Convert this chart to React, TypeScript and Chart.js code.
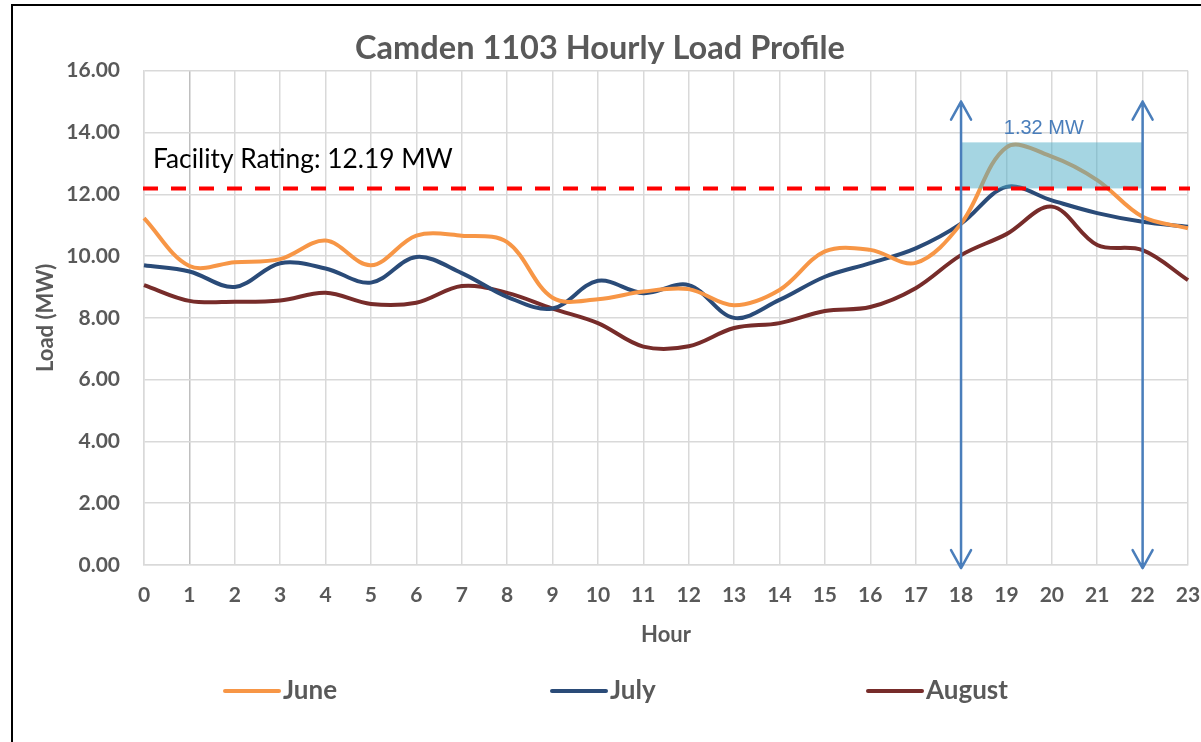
import React, { useEffect, useRef } from 'react';
import { Chart, registerables } from 'chart.js';

Chart.register(...registerables);

// ---------- data ----------
const HOURS = ['0', '1', '2', '3', '4', '5', '6', '7', '8', '9', '10', '11', '12', '13', '14', '15', '16', '17', '18', '19', '20', '21', '22', '23'];
const JUNE = [11.23, 9.68, 9.8, 9.9, 10.5, 9.7, 10.66, 10.66, 10.45, 8.65, 8.6, 8.85, 8.93, 8.41, 8.9, 10.15, 10.2, 9.78, 11.05, 13.52, 13.22, 12.46, 11.27, 10.9];
const JULY = [9.7, 9.5, 9.0, 9.77, 9.6, 9.14, 9.97, 9.45, 8.68, 8.3, 9.2, 8.8, 9.06, 8.0, 8.58, 9.33, 9.77, 10.25, 11.05, 12.24, 11.8, 11.39, 11.11, 10.95];
const AUGUST = [9.06, 8.55, 8.52, 8.56, 8.81, 8.45, 8.49, 9.03, 8.81, 8.3, 7.83, 7.07, 7.08, 7.67, 7.83, 8.22, 8.35, 8.96, 10.03, 10.71, 11.6, 10.36, 10.19, 9.22];
const SERIES_NAMES = ['June', 'July', 'August'];

const Y_MIN = 0;
const Y_MAX = 16;
const Y_STEP = 2;

const FACILITY_RATING = 12.19;
const FACILITY_LABEL = 'Facility Rating: 12.19 MW';
const BAND_TOP = 13.68;
const EXCEEDANCE_LABEL = '1.32 MW';
const WINDOW_START = 18;
const WINDOW_END = 22;
const ARROW_TOP = 15.0;
const ARROW_BOTTOM = -0.1;

const TITLE = 'Camden 1103 Hourly Load Profile';
const X_TITLE = 'Hour';
const Y_TITLE = 'Load (MW)';

// ---------- styles ----------
const COLORS = ['#F79646', '#2A4B78', '#772C2A'];
const GRAY_TEXT = '#595959';
const GRID = '#D9D9D9';
const ARROW_BLUE = '#4A7EBB';
const FONT = 'Lato';

function fitSize(ctx: CanvasRenderingContext2D, text: string, weight: string, family: string, width: number) {
  ctx.font = `${weight} 100px ${family}`;
  return (100 * width) / ctx.measureText(text).width;
}

const overlayPlugin = {
  id: 'overlay',
  beforeDraw(chart: any) {
    const ctx: CanvasRenderingContext2D = chart.ctx;
    ctx.save();
    ctx.fillStyle = '#ffffff';
    ctx.fillRect(0, 0, chart.width, chart.height);
    ctx.strokeStyle = '#000000';
    ctx.lineWidth = 2;
    ctx.beginPath();
    ctx.moveTo(12, chart.height + 5);
    ctx.lineTo(12, 5);
    ctx.lineTo(chart.width + 5, 5);
    ctx.stroke();
    ctx.restore();
  },
  afterDatasetsDraw(chart: any) {
    const ctx: CanvasRenderingContext2D = chart.ctx;
    const ca = chart.chartArea;
    const xs = chart.scales.x;
    const ys = chart.scales.y;
    const xa = xs.getPixelForValue(WINDOW_START);
    const xb = xs.getPixelForValue(WINDOW_END);
    const yr = ys.getPixelForValue(FACILITY_RATING);
    const yt = ys.getPixelForValue(BAND_TOP);
    ctx.save();

    // exceedance band
    ctx.fillStyle = 'rgba(75,172,198,0.5)';
    ctx.fillRect(xa, yt, xb - xa, yr - yt);

    // facility rating line
    ctx.setLineDash([15, 13]);
    ctx.strokeStyle = '#FF0000';
    ctx.lineWidth = 4;
    ctx.beginPath();
    ctx.moveTo(ca.left - 1, yr);
    ctx.lineTo(ca.right + 2, yr);
    ctx.stroke();
    ctx.setLineDash([]);

    // double arrows
    const y1 = ys.getPixelForValue(ARROW_TOP);
    const y2 = ys.getPixelForValue(ARROW_BOTTOM);
    ctx.strokeStyle = ARROW_BLUE;
    ctx.lineWidth = 2.5;
    ctx.lineCap = 'round';
    ctx.lineJoin = 'round';
    for (const xp of [xa, xb]) {
      ctx.beginPath();
      ctx.moveTo(xp, y1);
      ctx.lineTo(xp, y2);
      ctx.moveTo(xp - 10, y1 + 18);
      ctx.lineTo(xp, y1);
      ctx.lineTo(xp + 10, y1 + 18);
      ctx.moveTo(xp - 10, y2 - 18);
      ctx.lineTo(xp, y2);
      ctx.lineTo(xp + 10, y2 - 18);
      ctx.stroke();
    }

    // labels
    ctx.fillStyle = ARROW_BLUE;
    ctx.font = '20px "Liberation Sans"';
    ctx.textAlign = 'center';
    ctx.textBaseline = 'alphabetic';
    ctx.fillText(EXCEEDANCE_LABEL, (xa + xb) / 2 - 8, yt - 8);

    const fs = fitSize(ctx, FACILITY_LABEL, 'normal', FONT, 300);
    ctx.font = `normal ${fs}px ${FONT}`;
    ctx.fillStyle = '#000000';
    ctx.textAlign = 'left';
    ctx.fillText(FACILITY_LABEL, ca.left + 9, yr - 20);

    // title
    const ts = fitSize(ctx, TITLE, 'bold', FONT, 490);
    ctx.font = `bold ${ts}px ${FONT}`;
    ctx.fillStyle = GRAY_TEXT;
    ctx.textAlign = 'center';
    ctx.fillText(TITLE, 600, 59);

    // legend
    const legendX = [225, 552, 868];
    const ly = 691;
    ctx.font = `bold 26px ${FONT}`;
    ctx.textAlign = 'left';
    ctx.textBaseline = 'alphabetic';
    SERIES_NAMES.forEach((name, i) => {
      ctx.strokeStyle = COLORS[i];
      ctx.lineWidth = 4;
      ctx.lineCap = 'round';
      ctx.beginPath();
      ctx.moveTo(legendX[i], ly);
      ctx.lineTo(legendX[i] + 54, ly);
      ctx.stroke();
      ctx.fillStyle = GRAY_TEXT;
      ctx.fillText(name, legendX[i] + 58, 699);
    });
    ctx.restore();
  },
};

export default function App() {
  const ref = useRef<HTMLCanvasElement>(null);
  useEffect(() => {
    document.body.style.margin = '0';
    const series = [JUNE, JULY, AUGUST];
    const chart = new Chart(ref.current as HTMLCanvasElement, {
      type: 'line',
      data: {
        labels: HOURS,
        datasets: series.map((d, i) => ({
          label: SERIES_NAMES[i],
          data: d,
          borderColor: COLORS[i],
          backgroundColor: COLORS[i],
          borderWidth: 4,
          pointRadius: 0,
          tension: 0.35,
          fill: false,
        })),
      },
      options: {
        animation: false,
        responsive: false,
        layout: { padding: { left: 33, right: 13, top: 70.7, bottom: 94 } },
        plugins: {
          legend: { display: false },
          title: { display: false },
          tooltip: { enabled: false },
        },
        scales: {
          x: {
            type: 'category',
            offset: false,
            grid: {
              color: (c: any) => (c.index === 1 ? '#BFBFBF' : GRID),
              lineWidth: 1.5,
              drawTicks: false,
            },
            border: { display: true, color: GRID, width: 1.5 },
            ticks: {
              autoSkip: false,
              maxRotation: 0,
              padding: 18,
              color: GRAY_TEXT,
              font: { family: FONT, size: 21, weight: 'bold' },
            },
            title: {
              display: true,
              text: X_TITLE,
              color: GRAY_TEXT,
              padding: 0,
              font: { family: FONT, size: 22, weight: 'bold' },
            },
            afterFit: (s: any) => {
              s.height = 83;
              s.paddingLeft = 0;
              s.paddingRight = 0;
            },
          },
          y: {
            min: Y_MIN,
            max: Y_MAX,
            grid: { color: GRID, lineWidth: 1.5, drawTicks: false },
            border: { display: true, color: GRID, width: 1.5 },
            ticks: {
              stepSize: Y_STEP,
              padding: 24,
              color: GRAY_TEXT,
              font: { family: FONT, size: 21, weight: 'bold' },
              callback: (v: any) => Number(v).toFixed(2),
            },
            title: {
              display: true,
              text: Y_TITLE,
              color: GRAY_TEXT,
              padding: 0,
              font: { family: FONT, size: 22, weight: 'bold' },
            },
            afterFit: (s: any) => {
              s.width = 111;
              s.paddingTop = 0;
              s.paddingBottom = 0;
            },
          },
        },
      },
      plugins: [overlayPlugin],
    } as any);
    return () => chart.destroy();
  }, []);
  return (
    <div style={{ width: 1201, height: 742 }}>
      <canvas ref={ref} width={1201} height={742} style={{ display: 'block' }} />
    </div>
  );
}
